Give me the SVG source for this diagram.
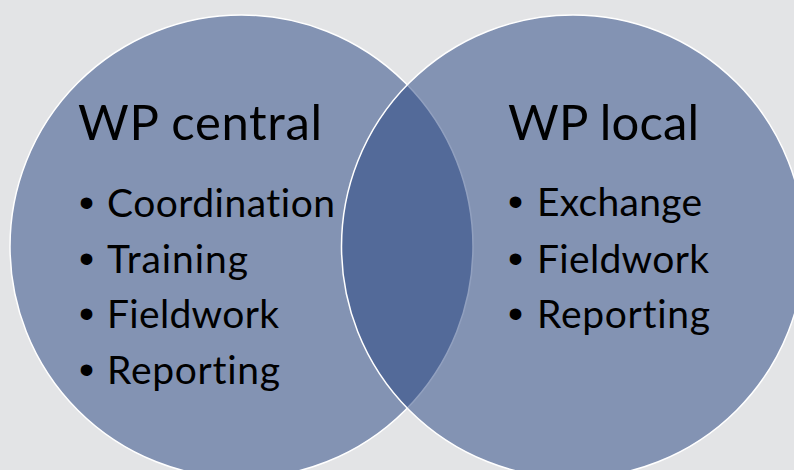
<svg xmlns="http://www.w3.org/2000/svg" width="794" height="470" viewBox="0 0 794 470">
<style>
.circ{fill:#234280;fill-opacity:0.5;stroke:#ffffff;stroke-width:1.5}
.title{font-family:Lato,"Open Sans",sans-serif;font-size:49px;fill:#000;font-variant-ligatures:none}
.item{font-family:Lato,"Open Sans",sans-serif;font-size:39px;fill:#000;font-variant-ligatures:none}
.bul{font-family:"Liberation Sans",Arial,sans-serif;font-size:43px;fill:#000}
</style>
<rect width="794" height="470" fill="#e3e4e6"/>
<g id="wp-central">
<circle class="circ" cx="241.5" cy="246.5" r="231.5"/>
</g>
<g id="wp-local">
<circle class="circ" cx="573" cy="246.5" r="231.5"/>
</g>
<g id="connectors"></g>
<g id="labels-central">
<text class="title" x="78" y="140" textLength="244">WP central</text>
<text class="bul" x="79" y="217">•</text>
<text class="item" x="107" y="217" textLength="228">Coordination</text>
<text class="bul" x="79" y="273">•</text>
<text class="item" x="107" y="273" textLength="141">Training</text>
<text class="bul" x="79" y="328">•</text>
<text class="item" x="107" y="328" textLength="172">Fieldwork</text>
<text class="bul" x="79" y="384">•</text>
<text class="item" x="107" y="384" textLength="173">Reporting</text>
</g>
<g id="labels-local">
<text class="title" x="508" y="140" textLength="191">WP local</text>
<text class="bul" x="508" y="216">•</text>
<text class="item" x="537" y="216" textLength="165">Exchange</text>
<text class="bul" x="508" y="273">•</text>
<text class="item" x="537" y="273" textLength="172">Fieldwork</text>
<text class="bul" x="508" y="328">•</text>
<text class="item" x="537" y="328" textLength="173">Reporting</text>
</g>
</svg>
